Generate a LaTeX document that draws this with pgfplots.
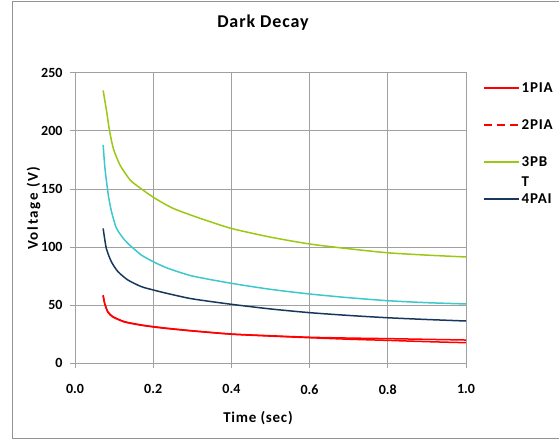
\documentclass[border=0pt]{standalone}
\usepackage{fontspec}
\setmainfont{Carlito}
\newfontfamily\chartfont[LetterSpace=5]{Carlito}
\newfontfamily\ylabfont[LetterSpace=11]{Carlito}
\usepackage{pgfplots}
\pgfplotsset{compat=1.18}

\definecolor{redline}{RGB}{255,0,0}
\definecolor{greenline}{RGB}{155,200,20}
\definecolor{cyanline}{RGB}{60,200,205}
\definecolor{navyline}{RGB}{23,55,94}
\definecolor{gridgray}{RGB}{160,160,160}

\pgfplotstableread{
x y
0.072 235
0.081 216.6
0.088 200.9
0.098 185
0.115 170.7
0.141 157.8
0.166 151
0.202 142.5
0.251 133.3
0.32 124.7
0.4 116
0.5 108.5
0.6 102.6
0.7 98.5
0.8 95
0.9 93
1.0 91.4
}\seriesC

\pgfplotstableread{
x y
0.072 188
0.076 170
0.080 158
0.086 143
0.093 131
0.105 117
0.12 109
0.1355 103
0.17 93
0.202 87
0.238 81.6
0.3 75
0.4 68.7
0.5 63.5
0.6 59.5
0.7 56.3
0.8 53.7
0.9 52
1.0 50.9
}\seriesE

\pgfplotstableread{
x y
0.072 116
0.080 99
0.093 87.3
0.110 78.7
0.1355 71.5
0.17 65.8
0.202 62.8
0.238 59.8
0.3 55.3
0.4 50.6
0.5 46.6
0.6 43.4
0.7 41
0.8 39
0.9 37.5
1.0 36.2
}\seriesD

\pgfplotstableread{
x y
0.072 58.6
0.076 51.4
0.084 44.2
0.097 40
0.127 35.6
0.17 32.8
0.202 31.3
0.238 29.9
0.3 27.8
0.4 25
0.5 23.5
0.6 22.2
0.7 21.5
0.8 21
0.9 20.4
1.0 19.8
}\seriesA

\pgfplotstableread{
x y
0.072 57.8
0.076 51
0.084 43.8
0.097 39.6
0.127 35.3
0.17 32.5
0.202 31
0.238 29.6
0.3 27.6
0.4 24.8
0.5 23.2
0.6 21.8
0.7 20.5
0.8 19.5
0.9 18.4
1.0 17.5
}\seriesB

\begin{document}
\begin{tikzpicture}
\useasboundingbox (0pt,0pt) rectangle (559pt,442pt);
\draw[gray!85, line width=1pt] (560pt,440pt) -- (12pt,440pt) -- (12pt,4pt) -- (560pt,4pt);
\node[font=\chartfont\fontsize{18}{21}\selectfont\bfseries] at (263pt,419pt) {Dark Decay};
\begin{axis}[
    at={(75pt,79pt)}, anchor=south west,
    width=391pt, height=290pt, scale only axis,
    xmin=0, xmax=1, ymin=0, ymax=250,
    xtick={0,0.2,0.4,0.6,0.8,1.0},
    ytick={0,50,100,150,200,250},
    xticklabel style={yshift=-13pt, /pgf/number format/.cd, fixed, fixed zerofill, precision=1},
    yticklabel style={xshift=-4pt},
    /pgf/number format/assume math mode=true,
    ticklabel style={font=\fontsize{14}{17}\selectfont\bfseries},
    xtick pos=bottom, ytick pos=left,
    tick align=outside, major tick length=5pt,
    tick style={gridgray, line width=1pt},
    axis line style={gridgray, line width=1pt},
    grid=major, grid style={gridgray, line width=1pt},
    xlabel={Time (sec)}, ylabel={\ylabfont Voltage (V)},
    label style={font=\chartfont\fontsize{15}{18}\selectfont\bfseries},
    xlabel style={at={(axis description cs:0.468,-0.19)}, anchor=center},
    ylabel style={at={(axis description cs:-0.106,0.534)}, anchor=center},
    legend style={at={(axis description cs:1.0435,0.967)}, anchor=north west,
        draw=none, fill=none, inner sep=0pt, row sep=27pt,
        nodes={inner sep=0pt, text height=10pt, text depth=0pt, anchor=base west},
        font=\chartfont\fontsize{15}{20}\selectfont\bfseries},
    legend cell align=left,
    /tikz/every odd column/.style={column sep=2pt},
    legend image code/.code={\draw[#1] (0pt,5pt) -- (35pt,5pt);},
]
\addplot[redline, line width=1.5pt, smooth, tension=0.4, forget plot] table {\seriesB};
\addplot[redline, line width=1.5pt, smooth, tension=0.4, forget plot] table {\seriesA};
\addplot[greenline, line width=1.5pt, smooth, tension=0.4, forget plot] table {\seriesC};
\addplot[navyline, line width=1.5pt, smooth, tension=0.4, forget plot] table {\seriesD};
\addplot[cyanline, line width=1.5pt, smooth, tension=0.4, forget plot] table {\seriesE};
\addlegendimage{color=redline, line width=1.5pt}
\addlegendentry{1PIA}
\addlegendimage{color=redline, line width=1.5pt, dash pattern={on 8pt off 5pt}}
\addlegendentry{2PIA}
\addlegendimage{color=greenline, line width=1.5pt}
\addlegendentry{\begin{tabular}[t]{@{}l@{}}3PB\\T\end{tabular}}
\addlegendimage{color=navyline, line width=1.5pt}
\addlegendentry{4PAI}
\end{axis}
\end{tikzpicture}
\end{document}
